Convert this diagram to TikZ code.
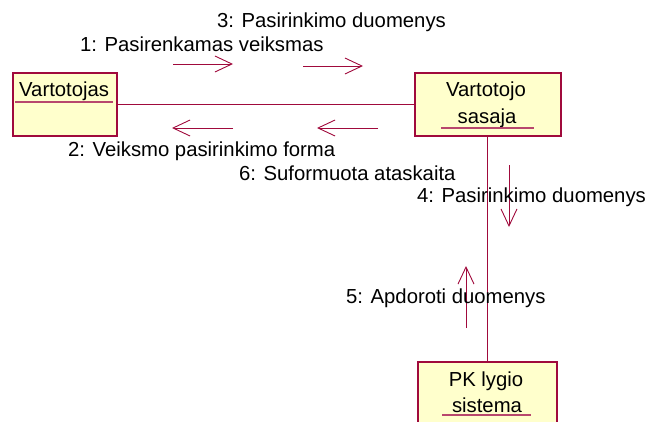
\documentclass[tikz,border=0pt]{standalone}
\usepackage{fontspec}
\setmainfont{Liberation Sans}
\usetikzlibrary{arrows.meta,calc,positioning}

\definecolor{rose}{RGB}{160,10,60}
\definecolor{note}{RGB}{255,255,204}

\begin{document}
\begin{tikzpicture}[x=1pt,y=-1pt,
    font=\fontsize{20.3}{24}\selectfont,
    obj/.style={draw=rose,fill=note,line width=1.5pt,anchor=north west,inner sep=0pt},
    link/.style={rose,line width=0.8pt},
    uline/.style={rose!75,line width=1.1pt},
    msg/.style={rose,line width=0.9pt,-{Straight Barb[length=17pt,width=16pt]}},
    lbl/.style={anchor=base west,inner sep=0pt}]
    \useasboundingbox (0,0) rectangle (651,421);
    \clip (0,0) rectangle (651,421);
    % Objektai
    \node[obj,minimum width=104pt,minimum height=63pt] (vart) at (12,72) {};
    \node[obj,minimum width=146pt,minimum height=63pt] (sasaja) at (414,72) {};
    \node[obj,minimum width=139pt,minimum height=70pt] (pk) at (417,361) {};
    \node[lbl] (vartTxt) at (19,96) {Vartotojas};
    \node[anchor=base,inner sep=0pt] (sasTxtA) at (486,96) {Vartotojo};
    \node[anchor=base,inner sep=0pt] (sasTxtB) at (487,123) {sasaja};
    \node[anchor=base,inner sep=0pt] (pkTxtA) at (486,386) {PK lygio};
    \node[anchor=base,inner sep=0pt] (pkTxtB) at (487,412) {sistema};
    \draw[uline] (15,102) -- (113,102);
    \draw[uline] (441,128) -- (534,128);
    \draw[uline] (442,415) -- (531,415);
    % Rysiai
    \draw[link] (vart.east) -- (sasaja.west);
    \draw[link] (sasaja.south) -- (sasaja.south |- pk.north);
    % Pranesimai
    \draw[msg] (173,64) -- (233,64);
    \draw[msg] (303,66) -- (363,66);
    \draw[msg] (233,128) -- (172,128);
    \draw[msg] (378,128) -- (317,128);
    \draw[msg] (509,165) -- (509,227);
    \draw[msg] (466,328) -- (466,266);
    \node[lbl] (m1) at (80,51) {1: Pasirenkamas veiksmas};
    \node[lbl] (m2) at (68,156) {2: Veiksmo pasirinkimo forma};
    \node[lbl] (m3) at (217,27) {3: Pasirinkimo duomenys};
    \node[lbl] (m4) at (417,202) {4: Pasirinkimo duomenys};
    \node[lbl] (m5) at (346,303) {5: Apdoroti duomenys};
    \node[lbl] (m6) at (239,180) {6: Suformuota ataskaita};
\end{tikzpicture}
\end{document}
